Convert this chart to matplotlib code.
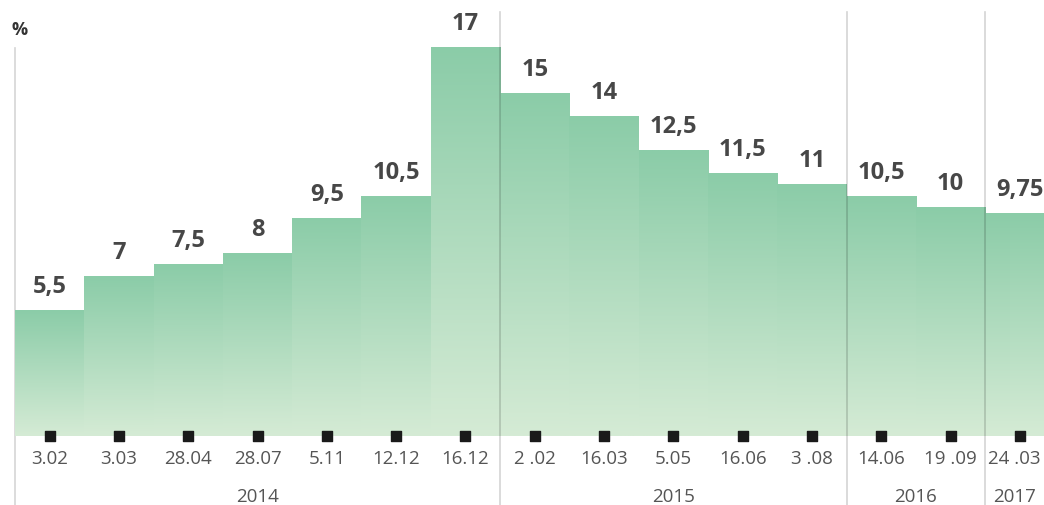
import matplotlib.pyplot as plt
import matplotlib.colors as mcolors
import numpy as np

# Key rate steps, %
dates = ["3.02", "3.03", "28.04", "28.07", "5.11", "12.12", "16.12",
         "2 .02", "16.03", "5.05", "16.06", "3 .08",
         "14.06", "19 .09",
         "24 .03"]
rates = [5.5, 7, 7.5, 8, 9.5, 10.5, 17,
         15, 14, 12.5, 11.5, 11,
         10.5, 10,
         9.75]
rate_labels = ["5,5", "7", "7,5", "8", "9,5", "10,5", "17",
               "15", "14", "12,5", "11,5", "11",
               "10,5", "10",
               "9,75"]
years = ["2014", "2015", "2016", "2017"]
year_counts = [7, 5, 2, 1]

plt.rcParams['font.family'] = ['Open Sans', 'DejaVu Sans']

W, H = 1044, 506
fig = plt.figure(figsize=(W / 100, H / 100), dpi=100)
px_unit_x = 69.3
px_unit_y = 22.85
base = 69  # baseline, px from bottom
ax_h = H - base
ax = fig.add_axes([15 / W, base / H, 1 - 15 / W, ax_h / H])
x_right = -0.5 + (W - 15) / px_unit_x
y_top = ax_h / px_unit_y


def frac(y_px):
    # pixel row from the top of the picture -> axes fraction
    return (H - y_px - base) / ax_h


# gradient bars
cmap = mcolors.LinearSegmentedColormap.from_list("g", ["#d5ebd5", "#8bcca8"])
grad = np.linspace(0, 1, 256).reshape(-1, 1)
xs = np.arange(len(rates))
for x, v, lab in zip(xs, rates, rate_labels):
    ax.imshow(grad, cmap=cmap, origin="lower", aspect="auto",
              extent=(x - 0.5, x + 0.5, 0, v), zorder=1)
    ax.annotate(lab, (x, v), xytext=(0, 9), textcoords="offset points",
                ha="center", va="bottom", fontsize=17, fontweight="bold",
                color="#474747", zorder=3)
ax.set_xlim(-0.5, x_right)
ax.set_ylim(0, y_top)
ax.axis("off")

# tick squares and date labels (centred on the visible part of the bar)
ax.scatter(xs, np.zeros(len(xs)), marker="s", s=42, color="#1a1a1a",
           zorder=4, clip_on=False)
tr = ax.get_xaxis_transform()
for x, d in zip(xs, dates):
    cx = (x - 0.5 + min(x + 0.5, x_right)) / 2
    ax.text(cx, frac(459), d, transform=tr, ha="center", va="center",
            fontsize=13.5, color="#555555", clip_on=False)

# year separators and year labels
ax.plot([-0.5, -0.5], [frac(H + 2), frac(49)], transform=tr,
        color="#d5d5d5", lw=1.2, clip_on=False, zorder=0)
start = -0.5
for i, (yr, n) in enumerate(zip(years, year_counts)):
    end = start + n
    center = (start + min(end, x_right)) / 2
    ax.text(center, frac(497), yr, transform=tr, ha="center", va="center",
            fontsize=13.5, color="#555555", clip_on=False)
    if i < len(years) - 1:
        ax.plot([end, end], [frac(H + 2), frac(13)], transform=tr,
                color="black", alpha=0.17, lw=1.2, clip_on=False, zorder=2)
    start = end

fig.text(12 / W, 1 - 30 / H, "%", ha="left", va="center", fontsize=13,
         fontweight="bold", color="#333333")

fig.savefig("out.png", dpi=100)
